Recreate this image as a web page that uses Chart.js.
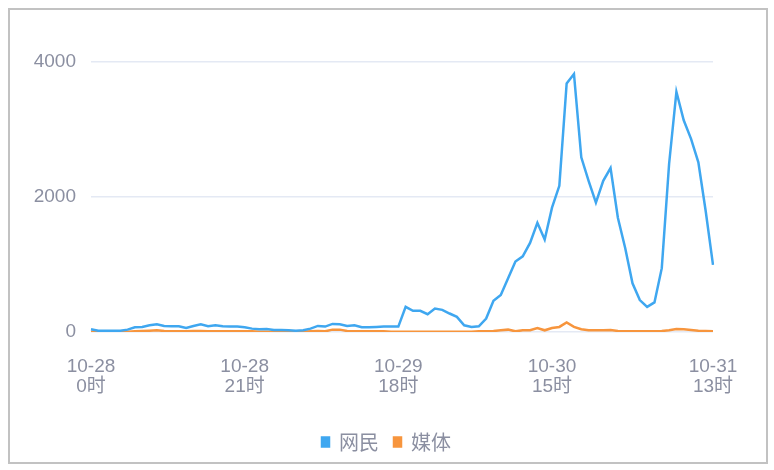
<!DOCTYPE html>
<html>

<head>
    <meta charset="utf-8">
    <title>网民 / 媒体</title>
    <style>
        body { margin: 0; background: #fff; }
        #frame {
            position: absolute; left: 8px; top: 8px;
            width: 756px; height: 452px;
            border: 2px solid #c2c2c2;
        }
    </style>
</head>

<body>
    <div id="frame"><canvas id="myChart" width="756" height="452"></canvas></div>
    <script src="https://cdn.jsdelivr.net/npm/chart.js@4.4.0/dist/chart.umd.min.js"></script>

    <script type="text/javascript">
        // hourly categories, 10-28 0时 .. 10-31 13时
        const days = ['10-28', '10-29', '10-30', '10-31'];
        const hoursPerDay = [24, 24, 24, 14];
        const categories = [];
        for (let d = 0; d < days.length; d++) {
            for (let h = 0; h < hoursPerDay[d]; h++) {
                categories.push(days[d] + ' ' + h + '时');
            }
        }
        // which categories carry a tick label
        const tickIndices = [0, 21, 42, 63, 85];
        const yTicks = [0, 2000, 4000];

        const netizens = [
            40, 20, 20, 20, 20, 35, 70, 75, 100, 115,
            90, 85, 85, 60, 90, 115, 85, 100, 85, 80,
            80, 70, 50, 40, 45, 30, 30, 25, 20, 25,
            50, 90, 80, 120, 115, 90, 100, 70, 70, 75,
            80, 80, 80, 373, 313, 313, 264, 348, 328, 274,
            224, 100, 75, 85, 199, 463, 547, 796, 1045, 1120,
            1319, 1618, 1369, 1842, 2165, 3683, 3822, 2588, 2240, 1916,
            2240, 2429, 1692, 1244, 722, 473, 373, 438, 946, 2489,
            3559, 3136, 2862, 2513, 1792, 995
        ];
        const media = [
            5, 5, 5, 5, 5, 5, 10, 15, 20, 25,
            15, 10, 10, 10, 15, 15, 10, 10, 10, 10,
            10, 10, 10, 5, 5, 5, 5, 5, 5, 5,
            10, 15, 10, 35, 35, 15, 10, 10, 10, 10,
            10, 5, 5, 5, 5, 5, 5, 5, 5, 5,
            5, 5, 5, 10, 10, 15, 25, 35, 10, 25,
            25, 60, 25, 60, 75, 140, 75, 40, 25, 25,
            25, 30, 15, 10, 10, 10, 10, 10, 15, 25,
            45, 40, 30, 20, 15, 10
        ];

        const textColor = '#8b8fa1';
        const font = { family: '"Liberation Sans", "Noto Sans CJK SC", sans-serif', size: 19, lineHeight: 1.05 };

        // the legend in the original sits a bit right of the plot centre
        const legendShift = {
            id: 'legendShift',
            afterLayout: function(chart) {
                chart.legend.left += 25;
                chart.legend.right += 25;
            }
        };

        var ctx = document.getElementById('myChart').getContext('2d');
        var chart = new Chart(ctx, {
            type: 'line',
            data: {
                labels: categories,
                datasets: [{
                    label: '网民',
                    data: netizens,
                    borderColor: '#3fa7f0',
                    backgroundColor: '#3fa7f0',
                    borderWidth: 2.5,
                    pointRadius: 0,
                    tension: 0
                }, {
                    label: '媒体',
                    data: media,
                    borderColor: '#f7953d',
                    backgroundColor: '#f7953d',
                    borderWidth: 2.5,
                    pointRadius: 0,
                    tension: 0
                }]
            },
            plugins: [legendShift],
            options: {
                responsive: false,
                animation: false,
                layout: { padding: { left: 0, right: 53, top: 52, bottom: 0 } },
                plugins: {
                    tooltip: { enabled: false },
                    legend: {
                        position: 'bottom',
                        labels: {
                            boxWidth: 7,
                            boxHeight: 9,
                            color: textColor,
                            padding: 15,
                            font: { family: '"Noto Sans CJK SC", sans-serif', size: 20 }
                        }
                    }
                },
                scales: {
                    x: {
                        grid: { display: false },
                        border: { display: false },
                        ticks: {
                            autoSkip: false,
                            maxRotation: 0,
                            padding: 17,
                            color: textColor,
                            font: font,
                            callback: function(value, index) {
                                if (tickIndices.indexOf(index) < 0) return '';
                                return categories[index].split(' ');
                            }
                        },
                        afterFit: function(scale) { scale.height = 85; }
                    },
                    y: {
                        min: 0,
                        max: 4000,
                        border: { display: false },
                        grid: { color: '#e4e9f4', lineWidth: 1.5, drawTicks: false },
                        afterBuildTicks: function(scale) {
                            scale.ticks = yTicks.map(function(v) { return { value: v }; });
                        },
                        ticks: {
                            padding: 15,
                            color: textColor,
                            font: font,
                            callback: function(value) { return String(value); }
                        },
                        afterFit: function(scale) { scale.width = 81; }
                    }
                }
            }
        });
    </script>
</body>

</html>
